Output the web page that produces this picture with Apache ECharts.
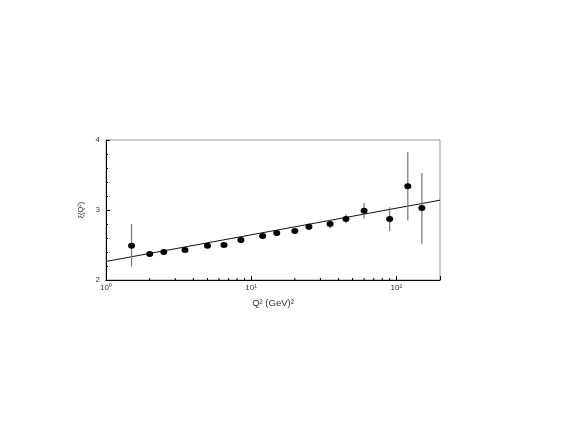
<!DOCTYPE html>
<html>
<head>
<meta charset="utf-8">
<script src="https://cdn.jsdelivr.net/npm/echarts@6/dist/echarts.min.js"></script>
<style>
  html, body { margin: 0; padding: 0; background: #fff; }
  #chart { width: 568px; height: 443px; }
</style>
</head>
<body>
<div id="chart"></div>
<script>
// measured points, Q^2 in GeV^2
const q2 = [1.5, 2.0, 2.5, 3.5, 5.0, 6.5, 8.5, 12, 15, 20, 25, 35, 45, 60, 90, 120, 150]
const val = [2.49, 2.37, 2.40, 2.43, 2.49, 2.50, 2.57, 2.63, 2.67, 2.70, 2.76, 2.80, 2.87, 2.99, 2.87, 3.34, 3.03]
const errLow = [2.19, 2.34, 2.38, 2.41, 2.47, 2.48, 2.54, 2.59, 2.63, 2.66, 2.71, 2.74, 2.81, 2.88, 2.70, 2.85, 2.51]
const errHigh = [2.80, 2.41, 2.42, 2.45, 2.51, 2.52, 2.60, 2.67, 2.71, 2.74, 2.81, 2.86, 2.94, 3.10, 3.04, 3.83, 3.53]

// fitted line end points
const fitLine = [[1, 2.265], [200, 3.14]]

// minor ticks of the log axis
const minorX = [2, 3, 4, 5, 6, 7, 8, 9, 20, 30, 40, 50, 60, 70, 80, 90]
const xTickText = { 1: '10⁰', 10: '10¹', 100: '10²' }

const points = q2.map((x, i) => [x, val[i]])
const bars = q2.map((x, i) => [x, errLow[i], errHigh[i]])

const chart = echarts.init(document.getElementById('chart'))

const option = {
  animation: false,
  grid: {
    left: 106, right: 128, top: 140, bottom: 163,
    show: true, borderColor: '#999', borderWidth: 1
  },
  xAxis: {
    type: 'log',
    logBase: 10,
    min: 1,
    max: 200,
    name: 'Q² (GeV)²',
    nameLocation: 'middle',
    nameGap: 18,
    nameTextStyle: { fontSize: 9.5, color: '#333', fontFamily: 'Liberation Sans' },
    axisLine: { lineStyle: { color: '#000', width: 1 } },
    axisTick: { inside: true, length: 4, lineStyle: { color: '#000' } },
    axisLabel: {
      fontSize: 8, color: '#333', fontFamily: 'Liberation Sans', margin: 4,
      formatter: v => xTickText[Math.round(v)] || ''
    },
    splitLine: { show: false }
  },
  yAxis: {
    type: 'value',
    min: 2,
    max: 4,
    interval: 1,
    name: 'ξ(Q²)',
    nameLocation: 'middle',
    nameRotate: 90,
    nameGap: 21,
    nameTextStyle: { fontSize: 7.5, color: '#333', fontFamily: 'Liberation Sans' },
    axisLine: { show: true, lineStyle: { color: '#000', width: 1 } },
    axisTick: { inside: true, length: 4, lineStyle: { color: '#000' } },
    minorTick: { show: true, splitNumber: 5, length: 2, lineStyle: { color: '#000' } },
    axisLabel: { fontSize: 8, color: '#333', fontFamily: 'Liberation Sans', margin: 6 },
    splitLine: { show: false }
  },
  series: [
    {
      type: 'custom',
      name: 'minorX',
      silent: true,
      data: minorX.map(v => [v, 2]),
      renderItem: (params, api) => {
        const p = api.coord([api.value(0), api.value(1)])
        return {
          type: 'line',
          shape: { x1: p[0], y1: p[1], x2: p[0], y2: p[1] - 2 },
          style: { stroke: '#000', lineWidth: 1 }
        }
      }
    },
    {
      type: 'line',
      data: fitLine,
      showSymbol: false,
      lineStyle: { color: '#111', width: 1 },
      z: 3
    },
    {
      type: 'custom',
      data: bars,
      renderItem: (params, api) => {
        const lo = api.coord([api.value(0), api.value(1)])
        const hi = api.coord([api.value(0), api.value(2)])
        return {
          type: 'line',
          shape: { x1: lo[0], y1: lo[1], x2: hi[0], y2: hi[1] },
          style: { stroke: '#777', lineWidth: 1.2 }
        }
      },
      z: 4
    },
    {
      type: 'scatter',
      data: points,
      symbol: 'circle',
      symbolSize: [7, 6],
      itemStyle: { color: '#000', opacity: 1 },
      z: 5
    }
  ]
}

chart.setOption(option)
</script>
</body>
</html>
